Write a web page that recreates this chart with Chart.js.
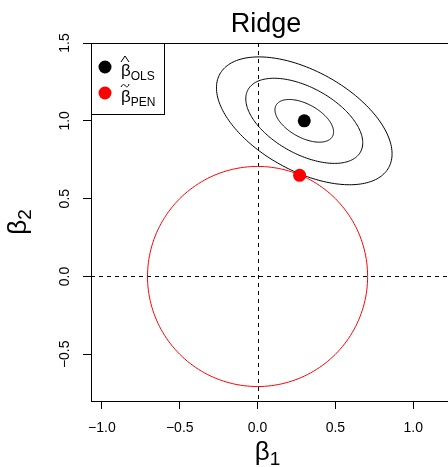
<!DOCTYPE html>
<html>
<head>
<meta charset="utf-8">
<script src="https://cdn.jsdelivr.net/npm/chart.js@4"></script>
<style>
html, body { margin: 0; padding: 0; overflow: hidden; background: #fff; }
#wrap { position: absolute; left: 0; top: 0; }
</style>
</head>
<body>
<div id="wrap"><canvas id="chart" width="460" height="467"></canvas></div>
<script>
const xTicks = [-1.0, -0.5, 0.0, 0.5, 1.0];
const yTicks = [-0.5, 0.0, 0.5, 1.0, 1.5];
const xRange = [-1.07, 1.249];
const yRange = [-0.8, 1.5];

const olsPoint = [0.30, 1.00];
const penPoint = [0.27, 0.65];

// ridge constraint: circle around the origin
const circleCenter = [0, 0];
const circleRadius = 0.707;

// loss contours around the OLS estimate (semi-axes in data units, angle in degrees)
const ellipseMajor = [0.207, 0.413, 0.62];
const ellipseMinor = [0.107, 0.213, 0.32];
const ellipseAngle = -29;

const FONT = '"Liberation Sans", Arial, Helvetica, sans-serif';

function fmt(v) {
    return v.toFixed(1).replace('-', '\u2212');
}

const shapes = {
    id: 'shapes',
    beforeDatasetsDraw(chart) {
        const ctx = chart.ctx;
        const a = chart.chartArea;
        const xs = chart.scales.x, ys = chart.scales.y;
        ctx.save();
        ctx.beginPath();
        ctx.rect(a.left, a.top, a.right - a.left, a.bottom - a.top);
        ctx.clip();

        // dashed axes through zero
        ctx.strokeStyle = '#000';
        ctx.lineWidth = 1;
        ctx.setLineDash([4, 4]);
        const x0 = Math.round(xs.getPixelForValue(0)) + 0.5;
        const y0 = Math.round(ys.getPixelForValue(0)) + 0.5;
        ctx.beginPath();
        ctx.moveTo(x0, a.top); ctx.lineTo(x0, a.bottom);
        ctx.moveTo(a.left, y0); ctx.lineTo(a.right, y0);
        ctx.stroke();
        ctx.setLineDash([]);

        // contour ellipses
        const th = ellipseAngle * Math.PI / 180;
        ctx.strokeStyle = '#000';
        for (let k = 0; k < ellipseMajor.length; k++) {
            ctx.beginPath();
            for (let i = 0; i <= 200; i++) {
                const t = i / 200 * 2 * Math.PI;
                const u = ellipseMajor[k] * Math.cos(t), w = ellipseMinor[k] * Math.sin(t);
                const px = xs.getPixelForValue(olsPoint[0] + u * Math.cos(th) - w * Math.sin(th));
                const py = ys.getPixelForValue(olsPoint[1] + u * Math.sin(th) + w * Math.cos(th));
                if (i === 0) ctx.moveTo(px, py); else ctx.lineTo(px, py);
            }
            ctx.stroke();
        }

        // constraint circle
        ctx.strokeStyle = '#ff0000';
        ctx.beginPath();
        for (let i = 0; i <= 200; i++) {
            const t = i / 200 * 2 * Math.PI;
            const px = xs.getPixelForValue(circleCenter[0] + circleRadius * Math.cos(t));
            const py = ys.getPixelForValue(circleCenter[1] + circleRadius * Math.sin(t));
            if (i === 0) ctx.moveTo(px, py); else ctx.lineTo(px, py);
        }
        ctx.stroke();
        ctx.restore();

        // box
        ctx.save();
        ctx.strokeStyle = '#000';
        ctx.lineWidth = 1;
        ctx.strokeRect(Math.round(a.left) + 0.5, Math.round(a.top) + 0.5,
            Math.round(a.right - a.left), Math.round(a.bottom - a.top));
        ctx.restore();
    },
    afterDraw(chart) {
        const ctx = chart.ctx;
        ctx.save();
        ctx.fillStyle = '#000';
        ctx.textBaseline = 'alphabetic';

        // title
        ctx.font = '27px ' + FONT;
        ctx.textAlign = 'center';
        ctx.fillText('Ridge', 266, 32);
        ctx.textAlign = 'left';

        // x title: beta_1
        drawSub(ctx, 267.5, 460, '\u03b2', '1', 26, 19, 5, true);

        // y title: beta_2 (rotated)
        ctx.save();
        ctx.translate(26, 222);
        ctx.rotate(-Math.PI / 2);
        drawSub(ctx, 0, 0, '\u03b2', '2', 26, 19, 5, true);
        ctx.restore();

        // legend
        ctx.fillStyle = '#fff';
        ctx.fillRect(91.5, 43.5, 73, 71);
        ctx.strokeStyle = '#000';
        ctx.lineWidth = 1;
        ctx.strokeRect(91.5, 43.5, 73, 71);

        const rows = [
            { y: 67, color: '#000', sub: 'OLS', mark: 'hat' },
            { y: 93, color: '#ff0000', sub: 'PEN', mark: 'tilde' }
        ];
        rows.forEach(r => {
            ctx.fillStyle = r.color;
            ctx.beginPath();
            ctx.arc(105, r.y, 6.5, 0, 2 * Math.PI);
            ctx.fill();
            ctx.fillStyle = '#000';
            const base = r.y + 9;
            drawSub(ctx, 121, base, '\u03b2', r.sub, 17, 12, 4, false);
            ctx.strokeStyle = '#000';
            ctx.lineWidth = 1;
            ctx.beginPath();
            if (r.mark === 'hat') {
                ctx.moveTo(121, base - 14); ctx.lineTo(125, base - 20); ctx.lineTo(129, base - 14);
            } else {
                ctx.moveTo(121, base - 15);
                ctx.bezierCurveTo(123, base - 19, 125, base - 17, 125, base - 16.5);
                ctx.bezierCurveTo(126, base - 15, 128, base - 14, 129, base - 18);
            }
            ctx.stroke();
        });
        ctx.restore();
    }
};

function drawSub(ctx, x, y, main, sub, size, subSize, shift, centered) {
    ctx.font = size + 'px ' + FONT;
    const w1 = ctx.measureText(main).width;
    ctx.font = subSize + 'px ' + FONT;
    const w2 = ctx.measureText(sub).width;
    let left = centered ? x - (w1 + w2) / 2 : x;
    ctx.textAlign = 'left';
    ctx.font = size + 'px ' + FONT;
    ctx.fillText(main, left, y);
    ctx.font = subSize + 'px ' + FONT;
    ctx.fillText(sub, left + w1, y + shift);
}

new Chart(document.getElementById('chart'), {
    type: 'scatter',
    data: {
        datasets: [{
            data: [
                { x: olsPoint[0], y: olsPoint[1] },
                { x: penPoint[0], y: penPoint[1] }
            ],
            pointBackgroundColor: ['#000000', '#ff0000'],
            pointBorderWidth: 0,
            pointRadius: 6.5,
            pointHoverRadius: 6.5
        }]
    },
    options: {
        responsive: false,
        animation: false,
        events: [],
        layout: { padding: { left: 0, top: 43, right: 8, bottom: 0 } },
        plugins: { legend: { display: false }, tooltip: { enabled: false }, title: { display: false } },
        scales: {
            x: {
                type: 'linear',
                min: xRange[0],
                max: xRange[1],
                afterBuildTicks: s => { s.ticks = xTicks.map(v => ({ value: v })); },
                afterFit: s => { s.height = 66; s.paddingLeft = 0; s.paddingRight = 0; },
                grid: { drawOnChartArea: false, drawTicks: true, tickLength: 8, color: '#000' },
                border: { display: true, color: '#000', width: 1 },
                ticks: {
                    autoSkip: false, maxRotation: 0, minRotation: 0, padding: 11, color: '#000',
                    font: { family: FONT, size: 14 },
                    callback: v => fmt(v)
                }
            },
            y: {
                type: 'linear',
                min: yRange[0],
                max: yRange[1],
                afterBuildTicks: s => { s.ticks = yTicks.map(v => ({ value: v })); },
                afterFit: s => { s.width = 91; s.paddingTop = 0; s.paddingBottom = 0; },
                grid: { drawOnChartArea: false, drawTicks: true, tickLength: 8, color: '#000' },
                border: { display: true, color: '#000', width: 1 },
                ticks: {
                    autoSkip: false, minRotation: 90, maxRotation: 90, crossAlign: 'center',
                    padding: 4, color: '#000',
                    font: { family: FONT, size: 14 },
                    callback: v => fmt(v)
                }
            }
        }
    },
    plugins: [shapes]
});
</script>
</body>
</html>
